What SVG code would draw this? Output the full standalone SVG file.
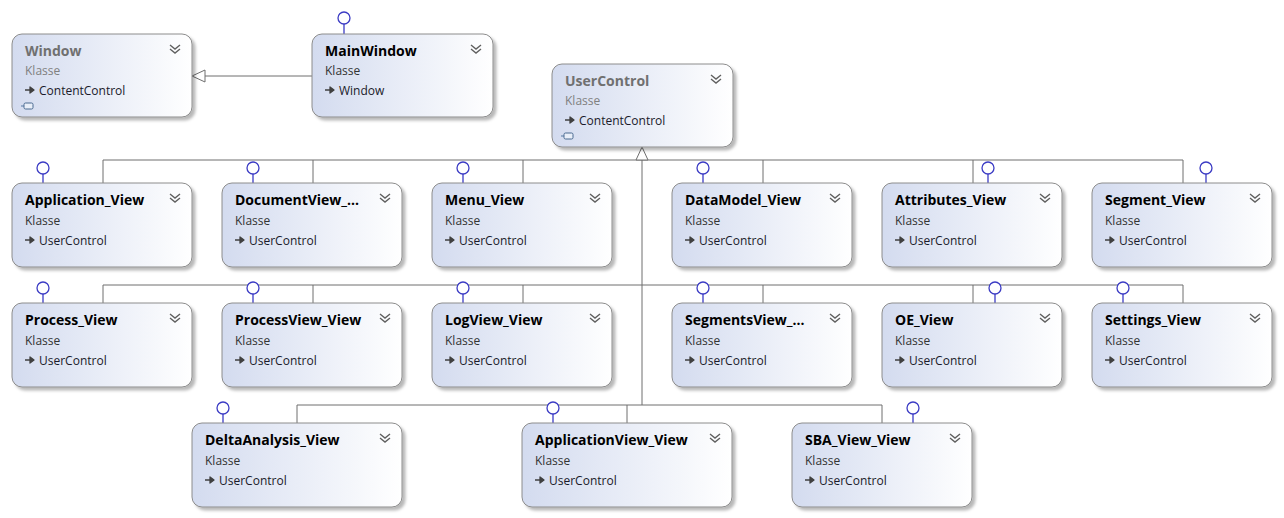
<svg xmlns="http://www.w3.org/2000/svg" xmlns:xlink="http://www.w3.org/1999/xlink" width="1284" height="518" viewBox="0 0 1284 518">
<defs>
<linearGradient id="g" x1="0" y1="0" x2="1" y2="0">
<stop offset="0" stop-color="#d3dbef"/>
<stop offset="1" stop-color="#ffffff"/>
</linearGradient>
<filter id="sh" x="-10%" y="-10%" width="130%" height="130%">
<feDropShadow dx="3" dy="3" stdDeviation="1.6" flood-color="#000" flood-opacity="0.28"/>
</filter>
<g id="chev"><path d="M-5,-4 L0,0 L5,-4 M-5,0 L0,4 L5,0" fill="none" stroke="#606060" stroke-width="1.4"/></g>
<g id="arr"><path d="M0,0 H8 M5,-3 L9,0 L5,3 Z" fill="#404040" stroke="#404040" stroke-width="1.3" stroke-linejoin="round"/></g>
<g id="ico"><path d="M0,0 H3" stroke="#6a8ab0" stroke-width="1.2"/><rect x="3" y="-3" width="9" height="6" rx="1.5" fill="#e8eef8" stroke="#4a6a90" stroke-width="1"/></g>
</defs>
<style>
.box{fill:url(#g);stroke:#8c8c8c;stroke-width:1;filter:url(#sh)}
.t{font-family:"Open Sans","Noto Sans",sans-serif;font-weight:bold;font-size:14px;fill:#000}
.tg{font-family:"Open Sans","Noto Sans",sans-serif;font-weight:bold;font-size:14px;fill:#707070}
.k{font-family:"Open Sans","Noto Sans",sans-serif;font-size:12px;fill:#333}
.kg{font-family:"Open Sans","Noto Sans",sans-serif;font-size:12px;fill:#808080}
.b{font-family:"Open Sans","Noto Sans",sans-serif;font-size:12px;fill:#1a1a2a}
.c{fill:none;stroke:#6e6e6e;stroke-width:1}
.lp{fill:#fff;stroke:#3b3bc4;stroke-width:1.3}
.ls{stroke:#3b3bc4;stroke-width:1.3}
.tri{fill:#fff;stroke:#6e6e6e;stroke-width:1}
</style>
<g id="connectors">
<path class="c" d="M312,76 H205"/>
<path class="tri" d="M192,76 L205,70 L205,82 Z"/>
<path class="c" d="M642,160 V405"/>
<path class="c" d="M103,183 V160 H1183 V183 M313,160 V183 M523,160 V183 M763,160 V183 M973,160 V183"/>
<path class="c" d="M103,303 V285 H1183 V303 M313,285 V303 M523,285 V303 M763,285 V303 M973,285 V303"/>
<path class="c" d="M297,423 V405 H882 V423 M627,405 V423"/>
<path class="tri" d="M642,147 L636,160 L648,160 Z"/>
</g>
<g id="Window">
<rect class="box" x="12" y="34" width="180" height="83" rx="10"/>
<text class="tg" x="25" y="56">Window</text>
<text class="kg" x="25" y="75">Klasse</text>
<use xlink:href="#arr" x="25" y="90"/><text class="b" x="39" y="95">ContentControl</text>
<use xlink:href="#ico" x="21" y="106"/>
<use xlink:href="#chev" x="175" y="49"/>
</g>
<g id="MainWindow">
<line class="ls" x1="344" y1="24" x2="344" y2="34"/><circle class="lp" cx="344" cy="18" r="6"/>
<rect class="box" x="312" y="34" width="181" height="83" rx="10"/>
<text class="t" x="325" y="56">MainWindow</text>
<text class="k" x="325" y="75">Klasse</text>
<use xlink:href="#arr" x="325" y="90"/><text class="b" x="339" y="95">Window</text>
<use xlink:href="#chev" x="476" y="49"/>
</g>
<g id="UserControl">
<rect class="box" x="552" y="64" width="181" height="83" rx="10"/>
<text class="tg" x="565" y="86">UserControl</text>
<text class="kg" x="565" y="105">Klasse</text>
<use xlink:href="#arr" x="565" y="120"/><text class="b" x="579" y="125">ContentControl</text>
<use xlink:href="#ico" x="561" y="136"/>
<use xlink:href="#chev" x="716" y="79"/>
</g>
<g id="Application_View">
<line class="ls" x1="43" y1="174" x2="43" y2="183"/><circle class="lp" cx="43" cy="168" r="6"/>
<rect class="box" x="12" y="183" width="180" height="84" rx="10"/>
<text class="t" x="25" y="205">Application_View</text>
<text class="k" x="25" y="225">Klasse</text>
<use xlink:href="#arr" x="25" y="240"/><text class="b" x="39" y="245">UserControl</text>
<use xlink:href="#chev" x="175" y="198"/>
</g>
<g id="DocumentView">
<line class="ls" x1="253" y1="174" x2="253" y2="183"/><circle class="lp" cx="253" cy="168" r="6"/>
<rect class="box" x="222" y="183" width="180" height="84" rx="10"/>
<text class="t" x="235" y="205">DocumentView_...</text>
<text class="k" x="235" y="225">Klasse</text>
<use xlink:href="#arr" x="235" y="240"/><text class="b" x="249" y="245">UserControl</text>
<use xlink:href="#chev" x="385" y="198"/>
</g>
<g id="Menu_View">
<line class="ls" x1="463" y1="174" x2="463" y2="183"/><circle class="lp" cx="463" cy="168" r="6"/>
<rect class="box" x="432" y="183" width="180" height="84" rx="10"/>
<text class="t" x="445" y="205">Menu_View</text>
<text class="k" x="445" y="225">Klasse</text>
<use xlink:href="#arr" x="445" y="240"/><text class="b" x="459" y="245">UserControl</text>
<use xlink:href="#chev" x="595" y="198"/>
</g>
<g id="DataModel_View">
<line class="ls" x1="703" y1="174" x2="703" y2="183"/><circle class="lp" cx="703" cy="168" r="6"/>
<rect class="box" x="672" y="183" width="180" height="84" rx="10"/>
<text class="t" x="685" y="205">DataModel_View</text>
<text class="k" x="685" y="225">Klasse</text>
<use xlink:href="#arr" x="685" y="240"/><text class="b" x="699" y="245">UserControl</text>
<use xlink:href="#chev" x="835" y="198"/>
</g>
<g id="Attributes_View">
<line class="ls" x1="988" y1="174" x2="988" y2="183"/><circle class="lp" cx="988" cy="168" r="6"/>
<rect class="box" x="882" y="183" width="180" height="84" rx="10"/>
<text class="t" x="895" y="205">Attributes_View</text>
<text class="k" x="895" y="225">Klasse</text>
<use xlink:href="#arr" x="895" y="240"/><text class="b" x="909" y="245">UserControl</text>
<use xlink:href="#chev" x="1045" y="198"/>
</g>
<g id="Segment_View">
<line class="ls" x1="1206" y1="174" x2="1206" y2="183"/><circle class="lp" cx="1206" cy="168" r="6"/>
<rect class="box" x="1092" y="183" width="180" height="84" rx="10"/>
<text class="t" x="1105" y="205">Segment_View</text>
<text class="k" x="1105" y="225">Klasse</text>
<use xlink:href="#arr" x="1105" y="240"/><text class="b" x="1119" y="245">UserControl</text>
<use xlink:href="#chev" x="1255" y="198"/>
</g>
<g id="Process_View">
<line class="ls" x1="43" y1="294" x2="43" y2="303"/><circle class="lp" cx="43" cy="288" r="6"/>
<rect class="box" x="12" y="303" width="180" height="84" rx="10"/>
<text class="t" x="25" y="325">Process_View</text>
<text class="k" x="25" y="345">Klasse</text>
<use xlink:href="#arr" x="25" y="360"/><text class="b" x="39" y="365">UserControl</text>
<use xlink:href="#chev" x="175" y="318"/>
</g>
<g id="ProcessView_View">
<line class="ls" x1="253" y1="294" x2="253" y2="303"/><circle class="lp" cx="253" cy="288" r="6"/>
<rect class="box" x="222" y="303" width="180" height="84" rx="10"/>
<text class="t" x="235" y="325">ProcessView_View</text>
<text class="k" x="235" y="345">Klasse</text>
<use xlink:href="#arr" x="235" y="360"/><text class="b" x="249" y="365">UserControl</text>
<use xlink:href="#chev" x="385" y="318"/>
</g>
<g id="LogView_View">
<line class="ls" x1="463" y1="294" x2="463" y2="303"/><circle class="lp" cx="463" cy="288" r="6"/>
<rect class="box" x="432" y="303" width="180" height="84" rx="10"/>
<text class="t" x="445" y="325">LogView_View</text>
<text class="k" x="445" y="345">Klasse</text>
<use xlink:href="#arr" x="445" y="360"/><text class="b" x="459" y="365">UserControl</text>
<use xlink:href="#chev" x="595" y="318"/>
</g>
<g id="SegmentsView">
<line class="ls" x1="703" y1="294" x2="703" y2="303"/><circle class="lp" cx="703" cy="288" r="6"/>
<rect class="box" x="672" y="303" width="180" height="84" rx="10"/>
<text class="t" x="685" y="325">SegmentsView_...</text>
<text class="k" x="685" y="345">Klasse</text>
<use xlink:href="#arr" x="685" y="360"/><text class="b" x="699" y="365">UserControl</text>
<use xlink:href="#chev" x="835" y="318"/>
</g>
<g id="OE_View">
<line class="ls" x1="995" y1="294" x2="995" y2="303"/><circle class="lp" cx="995" cy="288" r="6"/>
<rect class="box" x="882" y="303" width="180" height="84" rx="10"/>
<text class="t" x="895" y="325">OE_View</text>
<text class="k" x="895" y="345">Klasse</text>
<use xlink:href="#arr" x="895" y="360"/><text class="b" x="909" y="365">UserControl</text>
<use xlink:href="#chev" x="1045" y="318"/>
</g>
<g id="Settings_View">
<line class="ls" x1="1123" y1="294" x2="1123" y2="303"/><circle class="lp" cx="1123" cy="288" r="6"/>
<rect class="box" x="1092" y="303" width="180" height="84" rx="10"/>
<text class="t" x="1105" y="325">Settings_View</text>
<text class="k" x="1105" y="345">Klasse</text>
<use xlink:href="#arr" x="1105" y="360"/><text class="b" x="1119" y="365">UserControl</text>
<use xlink:href="#chev" x="1255" y="318"/>
</g>
<g id="DeltaAnalysis_View">
<line class="ls" x1="223" y1="414" x2="223" y2="423"/><circle class="lp" cx="223" cy="408" r="6"/>
<rect class="box" x="192" y="423" width="210" height="84" rx="10"/>
<text class="t" x="205" y="445">DeltaAnalysis_View</text>
<text class="k" x="205" y="465">Klasse</text>
<use xlink:href="#arr" x="205" y="480"/><text class="b" x="219" y="485">UserControl</text>
<use xlink:href="#chev" x="385" y="438"/>
</g>
<g id="ApplicationView_View">
<line class="ls" x1="553" y1="414" x2="553" y2="423"/><circle class="lp" cx="553" cy="408" r="6"/>
<rect class="box" x="522" y="423" width="210" height="84" rx="10"/>
<text class="t" x="535" y="445">ApplicationView_View</text>
<text class="k" x="535" y="465">Klasse</text>
<use xlink:href="#arr" x="535" y="480"/><text class="b" x="549" y="485">UserControl</text>
<use xlink:href="#chev" x="715" y="438"/>
</g>
<g id="SBA_View_View">
<line class="ls" x1="913" y1="414" x2="913" y2="423"/><circle class="lp" cx="913" cy="408" r="6"/>
<rect class="box" x="792" y="423" width="180" height="84" rx="10"/>
<text class="t" x="805" y="445">SBA_View_View</text>
<text class="k" x="805" y="465">Klasse</text>
<use xlink:href="#arr" x="805" y="480"/><text class="b" x="819" y="485">UserControl</text>
<use xlink:href="#chev" x="955" y="438"/>
</g>
</svg>
